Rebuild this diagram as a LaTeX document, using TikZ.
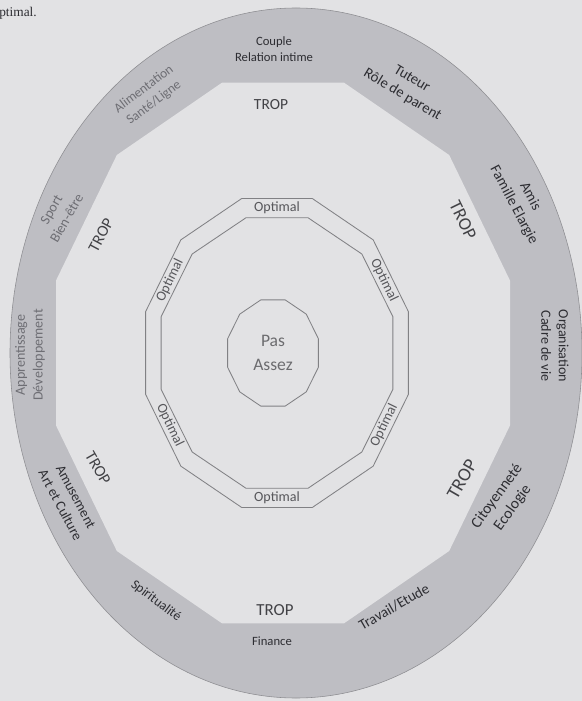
\documentclass[tikz,border=0pt]{standalone}
\usepackage{fontspec}
\setmainfont{Carlito}
\newfontfamily\bookfont{Liberation Serif}
\definecolor{paper}{RGB}{226,226,228}
\definecolor{band}{RGB}{190,190,195}
\definecolor{ink}{RGB}{45,45,50}
\definecolor{faded}{RGB}{110,110,116}
\tikzset{
  lbl/.style={text=#1,align=center,inner sep=0pt},
  lbl/.default=ink,
  trop/.style={text=ink!90,inner sep=0pt,font=\fontsize{#1}{#1}\selectfont},
  trop/.default=12,
  optimal/.style={text=ink!80,inner sep=0pt,font=\fontsize{10}{10}\selectfont},
  ring/.style={draw=ink!60,line width=0.6pt},
}

\begin{document}
\begin{tikzpicture}[x=0.025cm,y=-0.025cm]
  % page and frame
  \fill[paper] (0,0) rectangle (582,701);
  \useasboundingbox (0,0) rectangle (582,701);
  \node[anchor=west,inner sep=0pt,font=\bookfont\fontsize{9.5}{10}\selectfont,text=ink] (bookline) at (-1,13) {ptimal.};

  % grey band: ellipse minus the big dodecagon
  \fill[band,draw=band!75!black,line width=0.4pt] (296,353) ellipse [x radius=286,y radius=345];
  \fill[paper] plot[samples at={15,45,...,345},variable=\a] ({283+235*cos(\a)},{353-280*sin(\a)}) -- cycle;

  % optimal ring and centre
  \draw[ring] plot[samples at={15,45,...,345},variable=\a] ({277+136*cos(\a)},{353-160*sin(\a)}) -- cycle;
  \draw[ring] plot[samples at={15,45,...,345},variable=\a] ({277+120*cos(\a)},{353-140*sin(\a)}) -- cycle;
  \draw[ring] plot[samples at={15,45,...,345},variable=\a] ({273+47*cos(\a)},{353-55*sin(\a)}) -- cycle;
  \node[lbl=ink!70,font=\fontsize{12.5}{17}\selectfont] (pas) at (273,353) {Pas\\Assez};

  \foreach \a/\r in {30/-64,90/0,150/64,210/-64,270/0,330/64}
    \node[optimal,rotate=\r] (opt\a) at ({277+123.6*cos(\a)},{353-145*sin(\a)}) {Optimal};

  % areas of life in the band
  \foreach \n/\px/\py/\r/\s/\t/\c [evaluate=\s as \b using \s*1.25] in {
    couple/274/49/0/9/{Couple\\Relation intime}/ink,
    tuteur/407/87/-31/10.5/{Tuteur\\Rôle de parent}/ink,
    amis/522/201/-62/10.5/{Amis\\Famille Elargie}/ink,
    orga/555/346/-90/10/{Organisation\\Cadre de vie}/ink,
    citoyen/505/502/54/11/{Citoyenneté\\Ecologie}/ink,
    travail/394/607/30/10.5/{Travail/Etude}/ink,
    finance/272/641/0/9/{Finance}/ink,
    spirit/156/601/-37/9.5/{Spiritualité}/ink,
    amuse/68/501/-62/10/{Amusement\\Art et Culture}/ink,
    appren/30/355/90/10/{Apprentissage\\Développement}/faded,
    sport/59/214/60/10/{Sport\\Bien-être}/faded,
    alim/149/96/37/9.5/{Alimentation\\Santé/Ligne}/faded}
    \node[lbl=\c,rotate=\r,font=\fontsize{\s}{\b}\selectfont] (\n) at (\px,\py) {\t};

  % too much
  \foreach \n/\px/\py/\r/\s in {ttop/271/105/0/11,turight/463/220/-64/13,tlright/462/479/60/13.5,
    tbottom/275/610/0/12,tlleft/98/468/-60/11.5,tuleft/101/235/62/11.5}
    \node[trop=\s,rotate=\r] (\n) at (\px,\py) {TROP};
\end{tikzpicture}
\end{document}
